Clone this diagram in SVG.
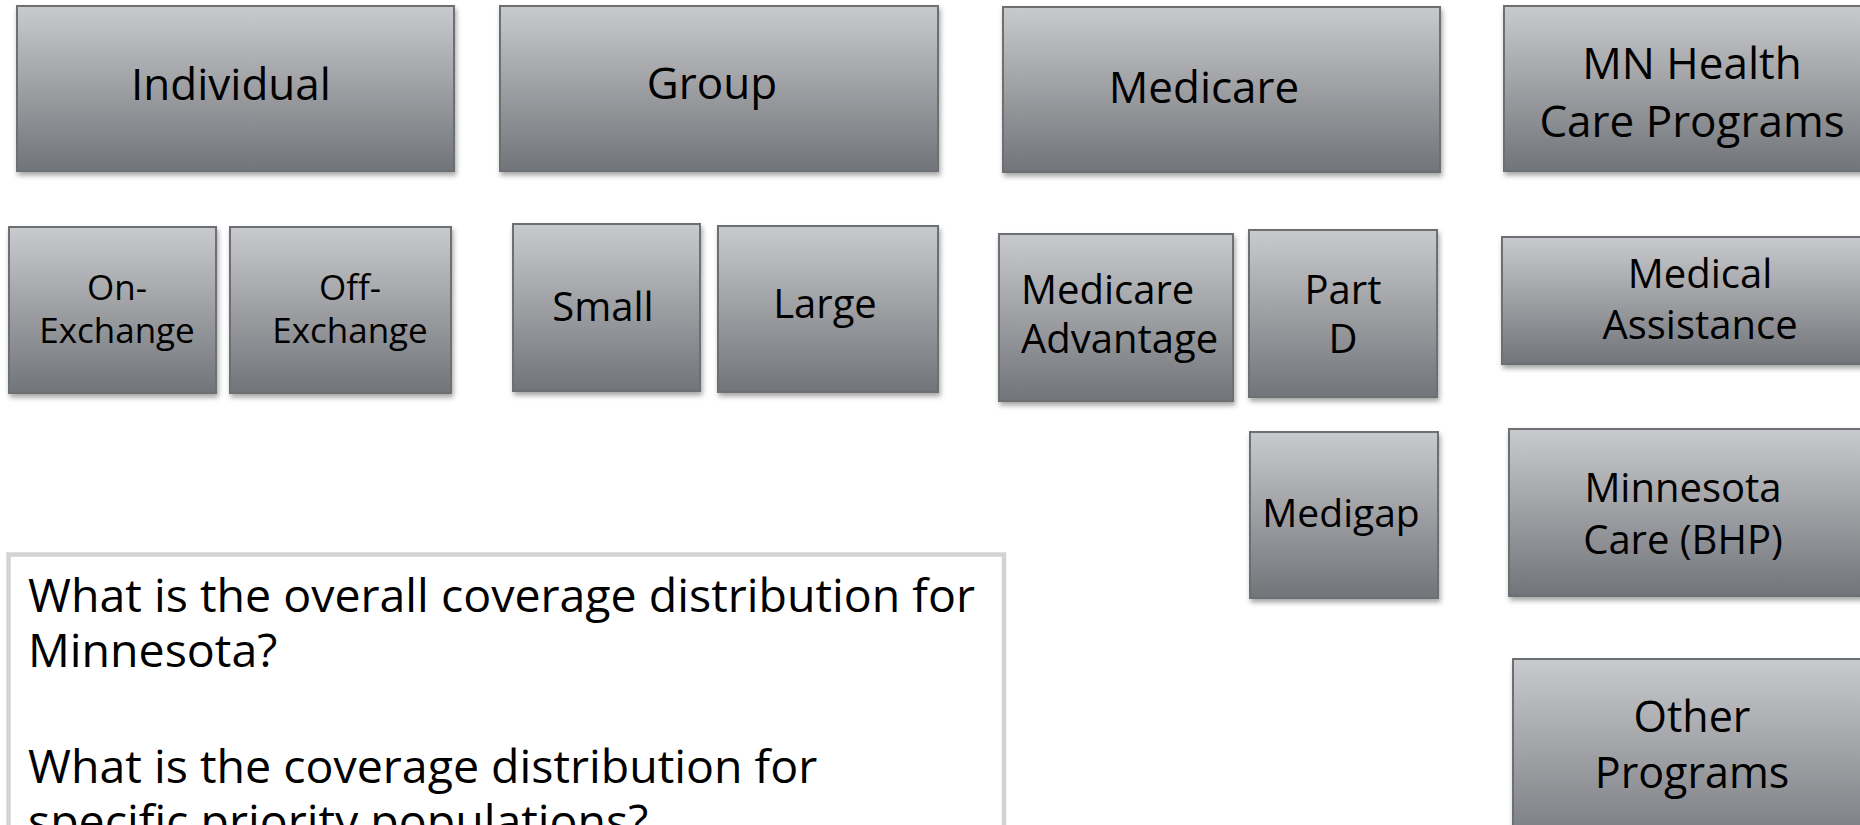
<svg xmlns="http://www.w3.org/2000/svg" width="1860" height="825" viewBox="0 0 1860 825">
<defs>
<linearGradient id="g" x1="0" y1="0" x2="0" y2="1">
<stop offset="0" stop-color="#c9cacd"/>
<stop offset="0.5" stop-color="#9d9fa3"/>
<stop offset="1" stop-color="#717479"/>
</linearGradient>
<filter id="sh" x="-10%" y="-10%" width="120%" height="130%">
<feDropShadow dx="1.5" dy="3.5" stdDeviation="2.5" flood-color="#000" flood-opacity="0.35"/>
</filter>
</defs>
<style>
.box{fill:url(#g);stroke:#6d6f73;stroke-width:2;filter:url(#sh)}
text{font-family:"Open Sans","DejaVu Sans",sans-serif;fill:#000;text-anchor:middle}
.t44{font-size:44px}
.t40{font-size:40px}
.t35{font-size:35px}
.body{font-size:46.5px;text-anchor:start}
</style>
<rect width="1860" height="825" fill="#fff"/>
<g id="connectors"></g>
<g id="individual"><rect class="box" x="17" y="6" width="437" height="165"/><text class="t44" x="231" y="100">Individual</text></g>
<g id="group"><rect class="box" x="500" y="6" width="438" height="165"/><text class="t44" x="712" y="99">Group</text></g>
<g id="medicare"><rect class="box" x="1003" y="7" width="437" height="165"/><text class="t44" x="1204" y="103">Medicare</text></g>
<g id="mn-health"><rect class="box" x="1504" y="6" width="400" height="165"/><text class="t44" x="1692" y="79">MN Health<tspan x="1692" y="137">Care Programs</tspan></text></g>
<g id="on-exchange"><rect class="box" x="9" y="227" width="207" height="166"/><text class="t35" x="117" y="300">On-<tspan x="117" y="343">Exchange</tspan></text></g>
<g id="off-exchange"><rect class="box" x="230" y="227" width="221" height="166"/><text class="t35" x="350" y="300">Off-<tspan x="350" y="343">Exchange</tspan></text></g>
<g id="small"><rect class="box" x="513" y="224" width="187" height="167"/><text class="t40" x="603" y="321">Small</text></g>
<g id="large"><rect class="box" x="718" y="226" width="220" height="166"/><text class="t40" x="825" y="318">Large</text></g>
<g id="medicare-advantage"><rect class="box" x="999" y="234" width="234" height="167"/><text class="t40" x="1021" y="304" style="text-anchor:start">Medicare<tspan x="1021" y="353">Advantage</tspan></text></g>
<g id="part-d"><rect class="box" x="1249" y="230" width="188" height="167"/><text class="t40" x="1343" y="304">Part<tspan x="1343" y="353">D</tspan></text></g>
<g id="medical-assistance"><rect class="box" x="1502" y="237" width="400" height="127"/><text class="t40" x="1700" y="288">Medical<tspan x="1700" y="339">Assistance</tspan></text></g>
<g id="medigap"><rect class="box" x="1250" y="432" width="188" height="166"/><text class="t40" x="1341" y="527" style="font-size:39px">Medigap</text></g>
<g id="minnesota-care"><rect class="box" x="1509" y="429" width="400" height="167"/><text class="t40" x="1683" y="502">Minnesota<tspan x="1683" y="554">Care (BHP)</tspan></text></g>
<g id="other-programs"><rect class="box" x="1513" y="659" width="400" height="200"/><text class="t44" x="1692" y="732" style="font-size:43px">Other<tspan x="1692" y="788">Programs</tspan></text></g>
<g id="questions"><rect x="8.5" y="554.5" width="995.5" height="300" fill="#fff" stroke="#d3d3d3" stroke-width="4.5"/>
<text class="body" x="28" y="612">What is the overall coverage distribution for<tspan x="28" y="667">Minnesota?</tspan><tspan x="28" y="783">What is the coverage distribution for</tspan><tspan x="28" y="838">specific priority populations?</tspan></text>
</g>
</svg>
